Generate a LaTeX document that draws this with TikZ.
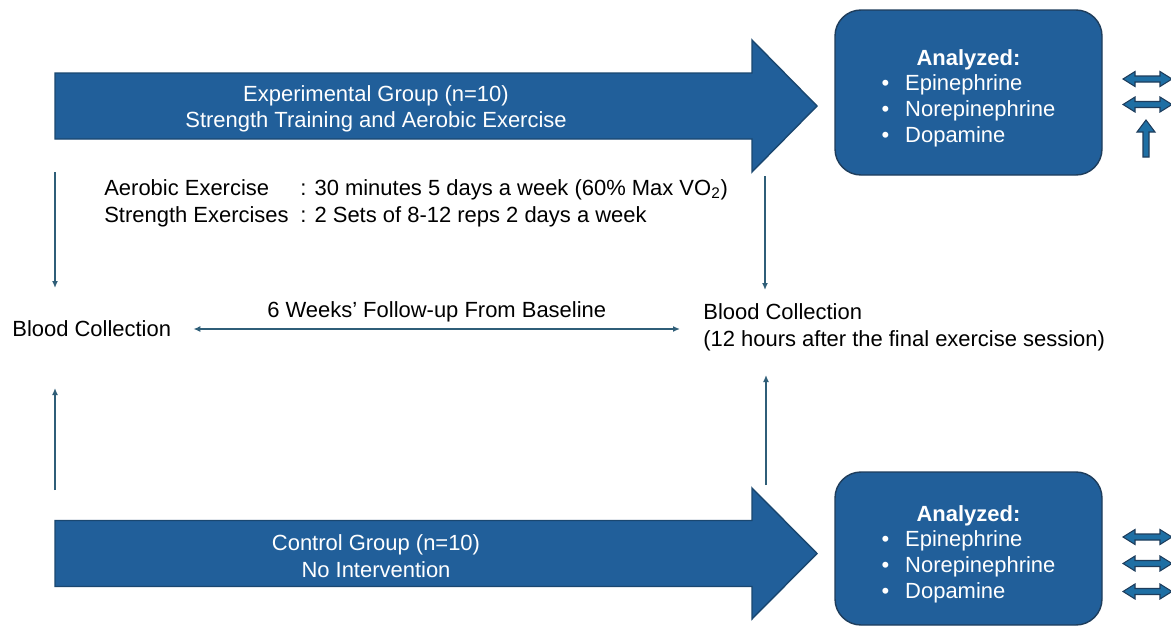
\documentclass[tikz,border=0pt]{standalone}
\usepackage{fontspec}
\setmainfont{Liberation Sans}
\usepackage{tikz}
\usetikzlibrary{arrows.meta, positioning, calc}
\definecolor{groupblue}{HTML}{215F9A}
\definecolor{groupedge}{HTML}{1A4770}
\definecolor{boxedge}{HTML}{1E3D5C}
\definecolor{flowteal}{HTML}{2F5E78}
\newlength{\pxu}
\setlength{\pxu}{0.02cm}

\begin{document}
\begin{tikzpicture}[%
  x=\pxu, y=-\pxu,%
  groupshape/.style={draw=groupedge, fill=groupblue, line width=0.8pt, line join=miter},%
  grouptext/.style={inner sep=0pt, text=white, align=center, font=\fontsize{12.5}{15}\selectfont},%
  analysis/.style={rectangle, rounded corners=26\pxu, draw=boxedge, fill=groupblue, line width=0.8pt, minimum width=267\pxu, text=white, align=center, font=\fontsize{12.5}{14.6}\selectfont},%
  note/.style={inner sep=0pt, font=\fontsize{12.5}{15.3}\selectfont},%
  flow/.style={draw=flowteal, line width=1.3\pxu, >={Latex[length=0.14cm, width=0.12cm]}},%
  smallshape/.style={draw=boxedge, fill=groupblue!90!cyan, line width=0.6pt}%
]
  \fill[white] (0,0) rectangle (1171,632);
  \useasboundingbox (0,0) rectangle (1171,632);

  \filldraw[groupshape] (55,73) -- (752,73) -- (752,40) -- (817,106) -- (752,172) -- (752,139) -- (55,139) -- cycle;
  \filldraw[groupshape] (55,520.5) -- (752,520.5) -- (752,488) -- (817,553.5) -- (752,619) -- (752,586.5) -- (55,586.5) -- cycle;
  \node[grouptext] (expgroup) at (376,109) {Experimental Group (n=10)\\Strength Training and Aerobic Exercise};
  \node[grouptext] (ctrlgroup) at (376,556) {Control Group (n=10)\\No Intervention};

  \node[analysis, minimum height=165\pxu] (exppanel) at (968.5,92.5) {\rule{0pt}{30\pxu}\textbf{Analyzed:}\\\begin{tabular}[t]{@{}l@{\hspace{16\pxu}}l@{}}\textbullet & Epinephrine\\\textbullet & Norepinephrine\\\textbullet & Dopamine\end{tabular}};
  \node[analysis, minimum height=153\pxu] (ctrlpanel) at (968.5,548.5) {\rule{0pt}{30\pxu}\textbf{Analyzed:}\\\begin{tabular}[t]{@{}l@{\hspace{16\pxu}}l@{}}\textbullet & Epinephrine\\\textbullet & Norepinephrine\\\textbullet & Dopamine\end{tabular}};

  \foreach \y in {79,104.5,537,563.5,591.5}
    \filldraw[smallshape] (1123,\y) -- ++(12,-7.5) -- ++(0,4.5) -- ++(25,0) -- ++(0,-4.5) -- ++(12,7.5) -- ++(-12,7.5) -- ++(0,-4.5) -- ++(-25,0) -- ++(0,4.5) -- cycle;
  \filldraw[smallshape] (1146,120) -- ++(9,12) -- ++(-6,0) -- ++(0,25) -- ++(-6,0) -- ++(0,-25) -- ++(-6,0) -- cycle;

  \node[note, anchor=west] (regimen) at (104,203.5) {\begin{tabular}{@{}p{196\pxu}@{}l@{}}Aerobic Exercise & : 30 minutes 5 days a week (60\% Max VO\textsubscript{2})\\Strength Exercises & : 2 Sets of 8-12 reps 2 days a week\end{tabular}};

  \node[note, anchor=west] (bloodpre) at (12,329) {Blood Collection};
  \node[note, anchor=west, align=left] (bloodpost) at (703,327.5) {Blood Collection\\(12 hours after the final exercise session)};

  \coordinate (expleft) at (55,172);
  \coordinate (preabove) at (55,288);
  \coordinate (prebelow) at (55,388);
  \coordinate (ctrlleft) at (55,490);
  \coordinate (expright) at (765,176);
  \coordinate (postabove) at (765,290);
  \coordinate (postbelow) at (766,375);
  \coordinate (ctrlright) at (766,485);

  \draw[flow, ->] (expleft) -- (preabove);
  \draw[flow, ->] (ctrlleft) -- (prebelow);
  \draw[flow, ->] (expright) -- (postabove);
  \draw[flow, ->] (ctrlright) -- (postbelow);
  \draw[flow, <->] ([xshift=22\pxu]bloodpre.east) -- node[note, above=6\pxu] {6 Weeks’ Follow-up From Baseline} ([xshift=-23\pxu]bloodpre.east -| bloodpost.west);
\end{tikzpicture}
\end{document}
